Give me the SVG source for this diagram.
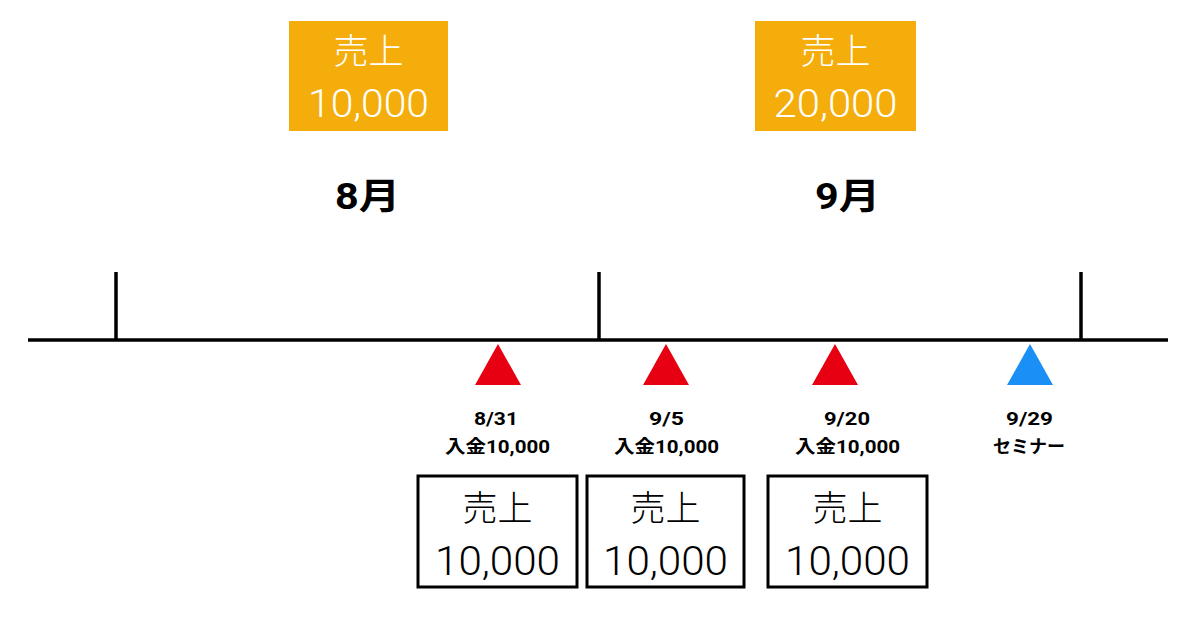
<svg xmlns="http://www.w3.org/2000/svg" width="1196" height="624" viewBox="0 0 1196 624">
<style>
.sales{fill:#F4AD0B}
.salestxt{fill:#fff;font-family:Roboto,"Noto Sans CJK JP",sans-serif;font-weight:300;text-anchor:middle}
.box{fill:#fff;stroke:#000;stroke-width:3}
.boxtxt{fill:#000;font-family:Roboto,"Noto Sans CJK JP",sans-serif;font-weight:300;text-anchor:middle}
.month{fill:#000;font-family:Roboto,"Noto Sans CJK JP",sans-serif;font-weight:700;font-size:36px;text-anchor:middle}
.lbl{fill:#000;font-family:Roboto,"Noto Sans CJK JP",sans-serif;font-weight:700;font-size:18px;text-anchor:middle}
.line{stroke:#000;stroke-width:3.5;fill:none}
.red{fill:#E60012}
.blue{fill:#1A8FF5}
</style>
<rect width="1196" height="624" fill="#fff"/>
<g id="connectors">
<line class="line" x1="28" y1="340" x2="1168" y2="340"/>
<line class="line" x1="116" y1="272" x2="116" y2="340"/>
<line class="line" x1="599" y1="272" x2="599" y2="340"/>
<line class="line" x1="1081" y1="272" x2="1081" y2="340"/>
</g>
<g id="sales-aug">
<rect class="sales" x="289" y="21" width="159" height="110"/>
<text class="salestxt" x="368.5" y="64" font-size="35">売上</text>
<text class="salestxt" x="368.5" y="117" font-size="38" textLength="121" lengthAdjust="spacingAndGlyphs">10,000</text>
</g>
<g id="sales-sep">
<rect class="sales" x="755" y="21" width="161" height="110"/>
<text class="salestxt" x="835.5" y="64" font-size="35">売上</text>
<text class="salestxt" x="835.5" y="117" font-size="38" textLength="124" lengthAdjust="spacingAndGlyphs">20,000</text>
</g>
<g id="month-aug"><text class="month" x="367.5" y="209" textLength="65" lengthAdjust="spacingAndGlyphs">8月</text></g>
<g id="month-sep"><text class="month" x="847.5" y="209" textLength="65" lengthAdjust="spacingAndGlyphs">9月</text></g>
<g id="ev-831">
<polygon class="red" points="498,344 521,385 475,385"/>
<text class="lbl" x="496" y="425" textLength="44" lengthAdjust="spacingAndGlyphs">8/31</text>
<text class="lbl" x="497.5" y="453" textLength="105" lengthAdjust="spacingAndGlyphs">入金10,000</text>
</g>
<g id="ev-95">
<polygon class="red" points="666,344 689,385 643,385"/>
<text class="lbl" x="666.5" y="425" textLength="35" lengthAdjust="spacingAndGlyphs">9/5</text>
<text class="lbl" x="666.5" y="453" textLength="105" lengthAdjust="spacingAndGlyphs">入金10,000</text>
</g>
<g id="ev-920">
<polygon class="red" points="835,344 858,385 812,385"/>
<text class="lbl" x="847" y="425" textLength="46" lengthAdjust="spacingAndGlyphs">9/20</text>
<text class="lbl" x="847.5" y="453" textLength="105" lengthAdjust="spacingAndGlyphs">入金10,000</text>
</g>
<g id="ev-929">
<polygon class="blue" points="1030,344 1053,385 1007,385"/>
<text class="lbl" x="1029.5" y="425" textLength="47" lengthAdjust="spacingAndGlyphs">9/29</text>
<text class="lbl" x="1029" y="453" textLength="72" lengthAdjust="spacingAndGlyphs">セミナー</text>
</g>
<g id="box-1">
<rect class="box" x="418" y="476" width="159" height="111"/>
<text class="boxtxt" x="497.5" y="521" font-size="35">売上</text>
<text class="boxtxt" x="497.5" y="575" font-size="41" textLength="125" lengthAdjust="spacingAndGlyphs">10,000</text>
</g>
<g id="box-2">
<rect class="box" x="587" y="476" width="157" height="111"/>
<text class="boxtxt" x="665.5" y="521" font-size="35">売上</text>
<text class="boxtxt" x="665.5" y="575" font-size="41" textLength="125" lengthAdjust="spacingAndGlyphs">10,000</text>
</g>
<g id="box-3">
<rect class="box" x="768" y="476" width="159" height="111"/>
<text class="boxtxt" x="847.5" y="521" font-size="35">売上</text>
<text class="boxtxt" x="847.5" y="575" font-size="41" textLength="125" lengthAdjust="spacingAndGlyphs">10,000</text>
</g>
</svg>
